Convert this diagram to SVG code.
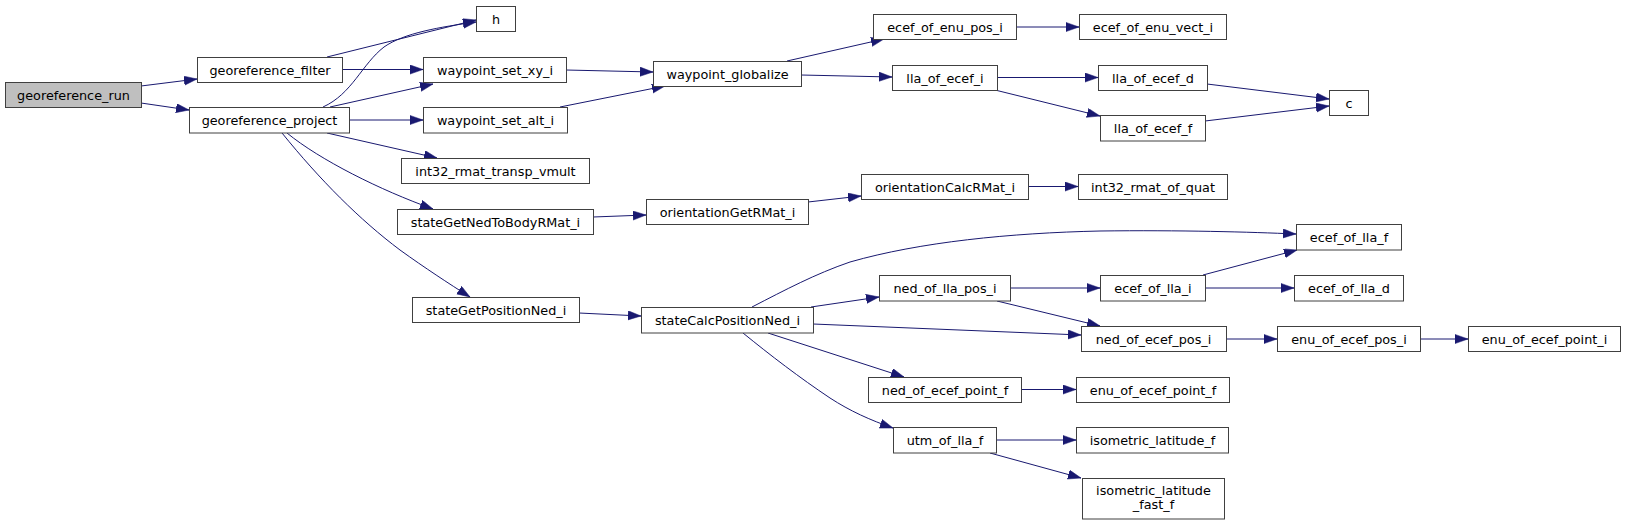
<svg xmlns="http://www.w3.org/2000/svg" width="1625" height="525" viewBox="0 0 1625 525">
<style>
.n rect{fill:#ffffff;stroke:#404040;stroke-width:1}
.n.root rect{fill:#bfbfbf}
.n text{font-family:"DejaVu Sans",sans-serif;font-size:12.8px;text-anchor:middle;fill:#000}
.e path{fill:none;stroke:#191970;stroke-width:1;marker-end:url(#arr)}
</style>
<defs>
<marker id="arr" markerUnits="userSpaceOnUse" markerWidth="14" markerHeight="10" refX="13" refY="4.6" orient="auto">
<path d="M0,0 L13,4.6 L0,9.2 z" fill="#191970" stroke="#191970" stroke-width="0.5"/>
</marker>
</defs>
<rect width="1625" height="525" fill="#ffffff"/>
<g id="connectors" class="e">
<path d="M141,86 L197,79"/>
<path d="M141,103 L189,110"/>
<path d="M327,57 L476,20"/>
<path d="M342,69.5 L423,69.5"/>
<path d="M323,107 C352,94 362,64 384,47 C404,33 440,27 476,22"/>
<path d="M330,107 L433,84"/>
<path d="M349,120 L423,120"/>
<path d="M327,133 L437,158"/>
<path d="M287,133 C320,160 380,190 433,209"/>
<path d="M282,133 C320,180 360,220 400,250 C425,268 448,283 470,297"/>
<path d="M566,70 L653,72"/>
<path d="M560,107 L665,86"/>
<path d="M787,61 L884,39"/>
<path d="M801,75 L892,77"/>
<path d="M1016,27 L1079,27"/>
<path d="M997,77.5 L1098,77.5"/>
<path d="M995,90 L1100,116"/>
<path d="M1207,84 L1329,99"/>
<path d="M1205,121 L1329,106"/>
<path d="M593,217 L646,215"/>
<path d="M808,202 L861,196"/>
<path d="M1028,186.5 L1078,186.5"/>
<path d="M579,313 L641,316"/>
<path d="M752,307 C785,290 815,274 850,262 C920,242 1010,233 1100,231 C1180,230 1250,232 1296,234"/>
<path d="M811,307 L879,297"/>
<path d="M813,324 L1081,335"/>
<path d="M768,333 L904,377"/>
<path d="M743,333 C770,355 800,378 830,398 C850,411 870,420 893,428"/>
<path d="M1010,288 L1100,288"/>
<path d="M997,301 L1100,326"/>
<path d="M1203,275 L1297,250"/>
<path d="M1205,288 L1294,288"/>
<path d="M1226,339 L1277,339"/>
<path d="M1420,339 L1468,339"/>
<path d="M1021,389.5 L1076,389.5"/>
<path d="M996,440 L1076,440"/>
<path d="M990,453 L1081,478"/>
</g>
<g id="georeference_run" class="n root"><rect x="5.5" y="82.5" width="136" height="25"/><text x="73.5" y="99.5">georeference_run</text></g>
<g id="georeference_filter" class="n"><rect x="197.5" y="57.5" width="145" height="25"/><text x="270" y="74.5">georeference_filter</text></g>
<g id="georeference_project" class="n"><rect x="189.5" y="107.5" width="160" height="25.5"/><text x="269.5" y="124.5">georeference_project</text></g>
<g id="h" class="n"><rect x="476.5" y="6.5" width="39" height="25"/><text x="496" y="23.5">h</text></g>
<g id="waypoint_set_xy_i" class="n"><rect x="423.5" y="57.5" width="143" height="25"/><text x="495" y="74.5">waypoint_set_xy_i</text></g>
<g id="waypoint_set_alt_i" class="n"><rect x="423.5" y="107.5" width="144" height="25.5"/><text x="495.5" y="124.5">waypoint_set_alt_i</text></g>
<g id="int32_rmat_transp_vmult" class="n"><rect x="401.5" y="158.5" width="188" height="25"/><text x="495.5" y="175.5">int32_rmat_transp_vmult</text></g>
<g id="stateGetNedToBodyRMat_i" class="n"><rect x="397.5" y="209.5" width="196" height="25"/><text x="495.5" y="226.5">stateGetNedToBodyRMat_i</text></g>
<g id="stateGetPositionNed_i" class="n"><rect x="412.5" y="297.5" width="167" height="25"/><text x="496" y="314.5">stateGetPositionNed_i</text></g>
<g id="waypoint_globalize" class="n"><rect x="653.5" y="61.5" width="148" height="25"/><text x="727.5" y="78.5">waypoint_globalize</text></g>
<g id="orientationGetRMat_i" class="n"><rect x="646.5" y="199.5" width="162" height="25"/><text x="727.5" y="216.5">orientationGetRMat_i</text></g>
<g id="stateCalcPositionNed_i" class="n"><rect x="641.5" y="307.5" width="172" height="25.5"/><text x="727.5" y="324.5">stateCalcPositionNed_i</text></g>
<g id="ecef_of_enu_pos_i" class="n"><rect x="873.5" y="14.5" width="143" height="25"/><text x="945" y="31.5">ecef_of_enu_pos_i</text></g>
<g id="lla_of_ecef_i" class="n"><rect x="892.5" y="65.5" width="105" height="25"/><text x="945" y="82.5">lla_of_ecef_i</text></g>
<g id="orientationCalcRMat_i" class="n"><rect x="861.5" y="174.5" width="167" height="25"/><text x="945" y="191.5">orientationCalcRMat_i</text></g>
<g id="ned_of_lla_pos_i" class="n"><rect x="879.5" y="275.5" width="131" height="25.5"/><text x="945" y="292.5">ned_of_lla_pos_i</text></g>
<g id="ned_of_ecef_point_f" class="n"><rect x="868.5" y="377.5" width="153" height="25"/><text x="945" y="394.5">ned_of_ecef_point_f</text></g>
<g id="utm_of_lla_f" class="n"><rect x="893.5" y="427.5" width="103" height="25.5"/><text x="945" y="444.5">utm_of_lla_f</text></g>
<g id="ecef_of_enu_vect_i" class="n"><rect x="1079.5" y="14.5" width="147" height="25"/><text x="1153" y="31.5">ecef_of_enu_vect_i</text></g>
<g id="lla_of_ecef_d" class="n"><rect x="1098.5" y="65.5" width="109" height="25"/><text x="1153" y="82.5">lla_of_ecef_d</text></g>
<g id="lla_of_ecef_f" class="n"><rect x="1100.5" y="115.5" width="105" height="25.5"/><text x="1153" y="132.5">lla_of_ecef_f</text></g>
<g id="int32_rmat_of_quat" class="n"><rect x="1078.5" y="174.5" width="149" height="25"/><text x="1153" y="191.5">int32_rmat_of_quat</text></g>
<g id="ecef_of_lla_i" class="n"><rect x="1100.5" y="275.5" width="105" height="25.5"/><text x="1153" y="292.5">ecef_of_lla_i</text></g>
<g id="ned_of_ecef_pos_i" class="n"><rect x="1081.5" y="326.5" width="145" height="25"/><text x="1153.5" y="343.5">ned_of_ecef_pos_i</text></g>
<g id="enu_of_ecef_point_f" class="n"><rect x="1076.5" y="377.5" width="153" height="25"/><text x="1153" y="394.5">enu_of_ecef_point_f</text></g>
<g id="isometric_latitude_f" class="n"><rect x="1076.5" y="427.5" width="152" height="25.5"/><text x="1152.5" y="444.5">isometric_latitude_f</text></g>
<g id="isometric_latitude_fast_f" class="n"><rect x="1082.5" y="478.5" width="142" height="40.5"/><text x="1153.5" y="495">isometric_latitude</text><text x="1153.5" y="509">_fast_f</text></g>
<g id="c" class="n"><rect x="1329.5" y="90.5" width="39" height="25"/><text x="1349" y="107.5">c</text></g>
<g id="ecef_of_lla_f" class="n"><rect x="1296.5" y="224.5" width="105" height="25.5"/><text x="1349" y="241.5">ecef_of_lla_f</text></g>
<g id="ecef_of_lla_d" class="n"><rect x="1294.5" y="275.5" width="109" height="25.5"/><text x="1349" y="292.5">ecef_of_lla_d</text></g>
<g id="enu_of_ecef_pos_i" class="n"><rect x="1277.5" y="326.5" width="143" height="25"/><text x="1349" y="343.5">enu_of_ecef_pos_i</text></g>
<g id="enu_of_ecef_point_i" class="n"><rect x="1468.5" y="326.5" width="152" height="25"/><text x="1544.5" y="343.5">enu_of_ecef_point_i</text></g>
</svg>
